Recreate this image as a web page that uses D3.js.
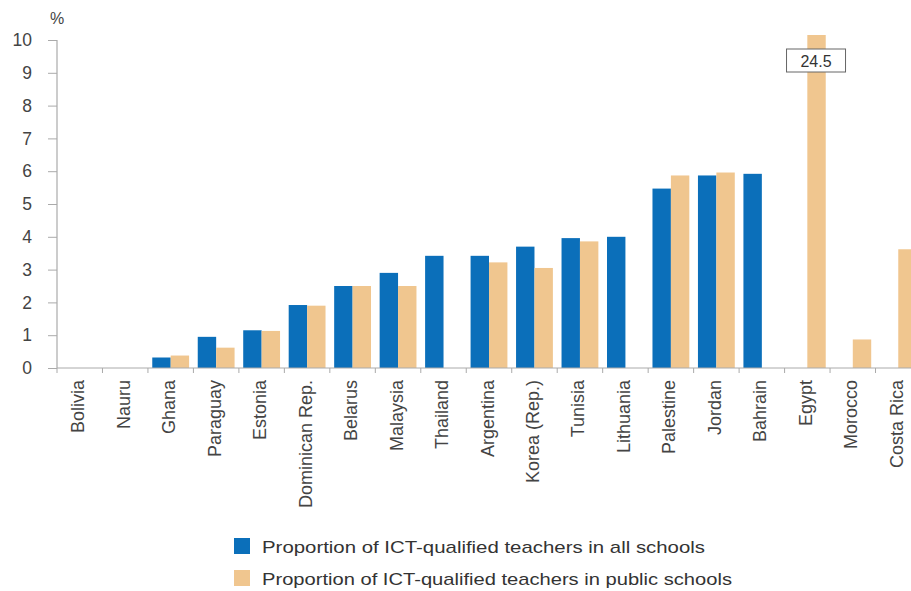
<!DOCTYPE html>
<html><head><meta charset="utf-8">
<script src="https://cdn.jsdelivr.net/npm/d3@7"></script>
<style>body{margin:0;background:#fff;}svg{display:block;font-family:"Liberation Sans",Arial,sans-serif;}</style>
</head><body>
<svg id="c" width="911" height="591"></svg>
<script>
const categories = ["Bolivia","Nauru","Ghana","Paraguay","Estonia","Dominican Rep.","Belarus","Malaysia","Thailand","Argentina","Korea (Rep.)","Tunisia","Lithuania","Palestine","Jordan","Bahrain","Egypt","Morocco","Costa Rica"];
const allSchools =    [null,null,0.32,0.95,1.15,1.92,2.5,2.9,3.42,3.42,3.7,3.96,4.0,5.47,5.87,5.92,null,null,null];
const publicSchools = [null,null,0.38,0.62,1.13,1.9,2.5,2.5,null,3.22,3.05,3.86,null,5.87,5.96,null,24.5,0.87,3.62];
const seriesNames = ["Proportion of ICT-qualified teachers in all schools","Proportion of ICT-qualified teachers in public schools"];
const yTicks = [0,1,2,3,4,5,6,7,8,9,10];
const colors = ["#0b6fba","#f0c68f"];

const svg = d3.select("#c");
const x0 = 57, x1 = 921, yTop = 40, yBase = 368;
const x = d3.scaleBand().domain(categories).range([x0, x1]).paddingInner(0.19).paddingOuter(0.095);
const xs = d3.scaleBand().domain([0,1]).range([0, x.bandwidth()]);
const y = d3.scaleLinear().domain([0,10]).range([yBase, yTop]);

svg.append("defs").append("clipPath").attr("id","clip")
  .append("rect").attr("x",x0).attr("y",35).attr("width",911-x0).attr("height",yBase-35);

// bars
const g = svg.append("g").attr("clip-path","url(#clip)");
[allSchools, publicSchools].forEach((vals, si) => {
  g.selectAll(".b"+si).data(categories.map((c,i)=>({c, v: vals[i]})).filter(d=>d.v!=null))
    .enter().append("rect")
    .attr("x", d => x(d.c) + xs(si))
    .attr("width", xs.bandwidth())
    .attr("y", d => y(d.v))
    .attr("height", d => yBase - y(d.v))
    .attr("fill", colors[si]);
});

// y axis
const ya = svg.append("g").attr("transform",`translate(${x0},0)`)
  .call(d3.axisLeft(y).tickValues(yTicks).tickSize(9).tickPadding(16).tickFormat(d3.format("d")));
ya.select(".domain").attr("stroke","#999").attr("d",`M0,${yTop}V${yBase}`);
ya.selectAll(".tick line").attr("stroke","#aaa");
ya.selectAll(".tick text").attr("fill","#444").style("font-size","17.5px").style("font-family","'Liberation Sans',Arial,sans-serif");
svg.append("text").attr("x",50).attr("y",24).attr("fill","#444").style("font-size","16px").text("%");

// x axis
const xa = svg.append("g").attr("transform",`translate(0,${yBase})`);
xa.append("line").attr("x1",x0).attr("x2",911).attr("stroke","#aaa");
const step = x.step();
const bounds = d3.range(categories.length+1).map(i => x0 + i*step);
xa.selectAll(".t").data(bounds).enter().append("line")
  .attr("x1",d=>d).attr("x2",d=>d).attr("y1",0).attr("y2",5).attr("stroke","#aaa");
xa.selectAll(".lbl").data(categories).enter().append("text")
  .attr("transform", d => `translate(${x(d)+x.bandwidth()/2+4.5},12) rotate(-90)`)
  .attr("text-anchor","end").attr("fill","#444").style("font-size","18px").text(d=>d);

// Egypt annotation
const ei = categories.indexOf("Egypt");
const ex = x("Egypt") + xs(1) + xs.bandwidth()/2;
const ann = svg.append("g");
ann.append("rect").attr("x",ex-30).attr("y",49).attr("width",59).attr("height",23)
  .attr("fill","#fff").attr("stroke","#666");
ann.append("text").attr("x",ex-0.5).attr("y",67).attr("text-anchor","middle").attr("fill","#333")
  .style("font-size","16px").text(d3.format(".1f")(publicSchools[ei]));

// legend
const lg = svg.append("g");
const legLen = [443, 470];
seriesNames.forEach((n,i) => {
  lg.append("rect").attr("x",234).attr("y",538+i*32).attr("width",16).attr("height",16).attr("fill",colors[i]);
  lg.append("text").attr("x",262).attr("y",553+i*32).attr("fill","#333").style("font-size","17px")
    .attr("textLength",legLen[i]).attr("lengthAdjust","spacingAndGlyphs").text(n);
});
</script>
</body></html>
